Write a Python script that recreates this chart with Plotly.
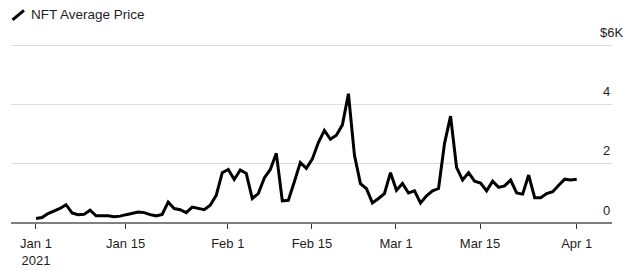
import plotly.graph_objects as go
import pandas as pd

# ---- data (NFT average price, $ thousands) ----
start_date = "2021-01-01"
avg_price_k = [
    0.12, 0.15, 0.29, 0.37, 0.46, 0.59, 0.31, 0.25, 0.26, 0.40,
    0.21, 0.21, 0.21, 0.18, 0.20, 0.25, 0.29, 0.34, 0.32, 0.25,
    0.21, 0.26, 0.68, 0.46, 0.42, 0.32, 0.51, 0.46, 0.42, 0.57,
    0.91, 1.68, 1.79, 1.45, 1.77, 1.65, 0.80, 0.97, 1.50, 1.79,
    2.34, 0.72, 0.74, 1.37, 2.03, 1.83, 2.15, 2.71, 3.12, 2.82,
    2.96, 3.31, 4.37, 2.28, 1.31, 1.14, 0.65, 0.80, 0.97, 1.68,
    1.08, 1.31, 0.99, 1.06, 0.65, 0.89, 1.06, 1.14, 2.68, 3.61,
    1.86, 1.43, 1.68, 1.39, 1.33, 1.06, 1.39, 1.18, 1.23, 1.43,
    0.99, 0.95, 1.60, 0.83, 0.83, 0.97, 1.03, 1.25, 1.46, 1.43,
    1.46,
]
dates = pd.date_range(start_date, periods=len(avg_price_k), freq="D")

x_tick_labels = ["Jan 1<br>2021", "Jan 15", "Feb 1", "Feb 15", "Mar 1", "Mar 15", "Apr 1"]
x_tick_dates = ["2021-01-01", "2021-01-15 22:00", "2021-02-01 22:00", "2021-02-15 22:00",
                "2021-03-01 22:00", "2021-03-15 22:00", "2021-04-01"]
y_tick_values = [0, 2, 4, 6]
y_tick_labels = ["0", "2", "4", "$6K"]
series_name = "NFT Average Price"

FONT = "Liberation Sans, Arial, sans-serif"
TXT = "#1e1e1e"

fig = go.Figure(
    go.Scatter(
        x=dates, y=avg_price_k, mode="lines", name=series_name,
        line=dict(color="black", width=3),
        hoverinfo="skip",
    )
)

t0 = pd.Timestamp(start_date)
x_range = [t0 - pd.Timedelta(days=4.16), t0 + pd.Timedelta(days=95.87)]

Y_TOP = 6.1
PLOT_H = 29.33 * Y_TOP
TOP_M = 222 - PLOT_H

fig.update_layout(
    width=633, height=271,
    margin=dict(l=11, r=21, t=TOP_M, b=49, autoexpand=False),
    paper_bgcolor="white", plot_bgcolor="white",
    showlegend=False,
    font=dict(family=FONT, size=13, color=TXT),
    xaxis=dict(
        type="date", range=x_range, automargin=False,
        tickvals=x_tick_dates, ticktext=x_tick_labels,
        ticks="outside", ticklen=5, tickwidth=1, tickcolor="#333333",
        ticklabelstandoff=3,
        showgrid=False, zeroline=False,
        showline=True, linecolor="#7f7f7f", linewidth=2,
        tickfont=dict(family=FONT, size=13, color=TXT),
        fixedrange=True,
    ),
    yaxis=dict(
        range=[0, Y_TOP], tickvals=y_tick_values[1:], automargin=False,
        showgrid=True, gridcolor="#dcdcdc", gridwidth=1,
        showticklabels=False, zeroline=False, showline=False,
        fixedrange=True,
    ),
)

annotations = []
for v, lab in zip(y_tick_values, y_tick_labels):
    annotations.append(dict(
        x=1, xref="paper", y=v, yref="y", text=lab, showarrow=False,
        xanchor="right", yanchor="middle",
        yshift=13 if v > 0 else 12,
        xshift=13 if lab.startswith("$") else 0,
        font=dict(family=FONT, size=13, color=TXT),
    ))

def px_x(px):
    return (px - 11) / 601.0

def px_y(py):
    return (222 - py) / PLOT_H

annotations.append(dict(
    x=px_x(29), xref="paper", y=px_y(15), yref="paper", text=series_name,
    showarrow=False, xanchor="left", yanchor="middle",
    font=dict(family=FONT, size=13.5, color=TXT),
))
fig.update_layout(annotations=annotations)

fig.add_shape(type="line", xref="paper", yref="paper",
              x0=px_x(12.5), y0=px_y(20), x1=px_x(24), y1=px_y(10.5),
              line=dict(color="black", width=3))

fig.write_html("out.html")
